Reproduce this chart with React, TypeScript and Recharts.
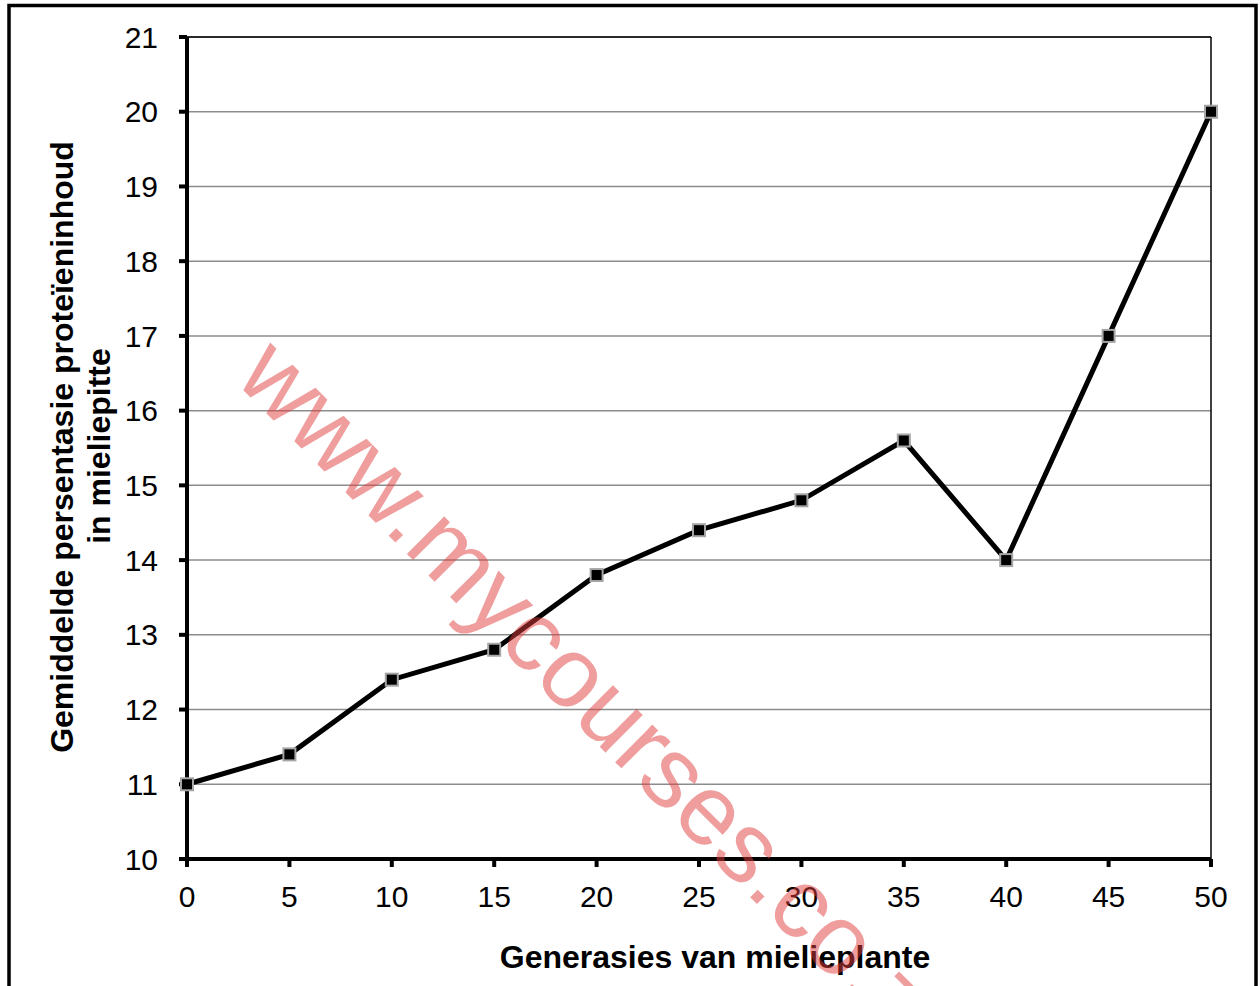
// Mielie protein chart — line with square markers, Afrikaans labels

import { LineChart, Line, XAxis, YAxis, CartesianGrid, ReferenceLine } from 'recharts';

const generations = [0, 5, 10, 15, 20, 25, 30, 35, 40, 45, 50];
const proteinPct = [11, 11.4, 12.4, 12.8, 13.8, 14.4, 14.8, 15.6, 14, 17, 20];
const xTicks = [0, 5, 10, 15, 20, 25, 30, 35, 40, 45, 50];
const yTicks = [10, 11, 12, 13, 14, 15, 16, 17, 18, 19, 20, 21];

const xTitle = 'Generasies van mielieplante';
const yTitleLines = ['Gemiddelde persentasie proteïeninhoud', 'in mieliepitte'];
const watermark = 'www.mycourses.co.za';

const FONT = '"Liberation Sans", Arial, sans-serif';

const data = generations.map((g, i) => ({ gen: g, protein: proteinPct[i] }));

const tickStyle = { fill: '#000', fontSize: 30, fontFamily: FONT };

function SquareDot(props: any) {
  const { cx, cy, index } = props;
  return (
    <rect
      key={`dot-${index}`}
      x={cx - 6}
      y={cy - 6}
      width={12}
      height={12}
      fill="#000"
      stroke="#a6a6a6"
      strokeWidth={2}
    />
  );
}

export default function App() {
  return (
    <div style={{ position: 'absolute', left: 0, top: 0, width: 1260, height: 986, background: '#fff' }}>
      <LineChart
        width={1260}
        height={986}
        data={data}
        margin={{ top: 37, right: 49, bottom: 67, left: 0 }}
      >
        <CartesianGrid vertical={false} stroke="#8c8c8c" strokeWidth={1.5} />
        <ReferenceLine y={21} stroke="#000" strokeWidth={1.5} />
        <ReferenceLine x={50} stroke="#000" strokeWidth={1.5} />
        <XAxis
          dataKey="gen"
          type="number"
          domain={[0, 50]}
          ticks={xTicks}
          interval={0}
          height={60}
          tick={tickStyle}
          tickSize={8}
          tickMargin={19}
          axisLine={{ stroke: '#000', strokeWidth: 4 }}
          tickLine={{ stroke: '#000', strokeWidth: 4 }}
          label={{
            content: () => (
              <text x={715} y={968} textAnchor="middle" fontFamily={FONT} fontSize={32} fontWeight="bold" fill="#000">
                {xTitle}
              </text>
            ),
          }}
        />
        <YAxis
          type="number"
          domain={[10, 21]}
          ticks={yTicks}
          interval={0}
          width={187}
          tick={tickStyle}
          tickSize={8}
          tickMargin={21}
          axisLine={{ stroke: '#000', strokeWidth: 4 }}
          tickLine={{ stroke: '#000', strokeWidth: 4 }}
          label={{
            content: () => (
              <g>
                <text
                  x={73}
                  y={447}
                  transform="rotate(-90 73 447)"
                  textAnchor="middle"
                  fontFamily={FONT}
                  fontSize={32}
                  fontWeight="bold"
                  fill="#000"
                >
                  {yTitleLines[0]}
                </text>
                <text
                  x={110}
                  y={446}
                  transform="rotate(-90 110 446)"
                  textAnchor="middle"
                  fontFamily={FONT}
                  fontSize={32}
                  fontWeight="bold"
                  fill="#000"
                >
                  {yTitleLines[1]}
                </text>
              </g>
            ),
          }}
        />
        <Line
          type="linear"
          dataKey="protein"
          stroke="#000"
          strokeWidth={5}
          dot={SquareDot}
          activeDot={false}
          isAnimationActive={false}
        />
      </LineChart>

      {/* outer frame + watermark on top */}
      <svg
        width={1260}
        height={986}
        style={{ position: 'absolute', left: 0, top: 0, pointerEvents: 'none' }}
      >
        <rect x={9} y={5.5} width={1247} height={1100} fill="none" stroke="#000" strokeWidth={3.5} />
        <text
          x={233}
          y={380}
          transform="rotate(45 233 380)"
          fontFamily={FONT}
          fontSize={100}
          fill="#e03c3c"
          fillOpacity={0.5}
        >
          {watermark}
        </text>
      </svg>
    </div>
  );
}
